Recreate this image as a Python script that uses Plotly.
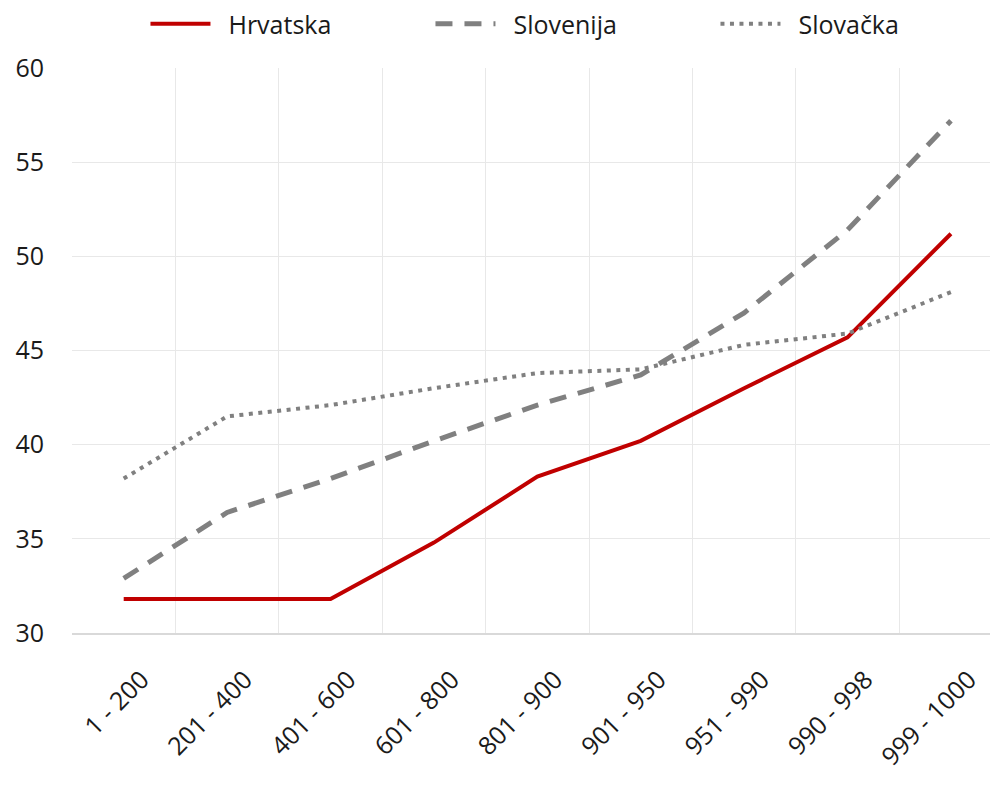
import plotly.graph_objects as go

categories = ["1 - 200", "201 - 400", "401 - 600", "601 - 800", "801 - 900",
              "901 - 950", "951 - 990", "990 - 998", "999 - 1000"]
hrvatska = [31.8, 31.8, 31.8, 34.8, 38.3, 40.2, 43.0, 45.7, 51.2]
slovenija = [32.9, 36.4, 38.2, 40.2, 42.1, 43.7, 47.0, 51.4, 57.2]
slovacka = [38.2, 41.5, 42.1, 43.0, 43.8, 44.0, 45.3, 45.9, 48.1]
y_ticks = [30, 35, 40, 45, 50, 55, 60]

FONT = "Open Sans"
PAD = "\u00a0\u00a0"

fig = go.Figure()
fig.add_trace(go.Scatter(x=categories, y=hrvatska, name=PAD + "Hrvatska", mode="lines",
                         line=dict(color="#C00000", width=4)))
fig.add_trace(go.Scatter(x=categories, y=slovenija, name=PAD + "Slovenija", mode="lines",
                         line=dict(color="#808080", width=5, dash="17px,12px")))
fig.add_trace(go.Scatter(x=categories, y=slovacka, name=PAD + "Slovačka", mode="lines",
                         line=dict(color="#808080", width=4, dash="4px,5.5px")))

# page has an 8px body margin; figure is offset accordingly
fig.update_layout(
    width=990, height=779,
    margin=dict(l=64, r=0, t=60, b=154, autoexpand=False),
    paper_bgcolor="white", plot_bgcolor="white",
    font=dict(family=FONT, size=25, color="#1a1a1a"),
    showlegend=True,
    legend=dict(orientation="h", x=0.541, xanchor="center", y=1 - 16 / 779, yanchor="middle",
                yref="container", itemwidth=60, entrywidth=210,
                font=dict(size=25)),
    xaxis=dict(type="category", range=[-0.5, 8.455], tickson="boundaries",
               showgrid=True, gridcolor="#e8e8e8", gridwidth=1,
               showline=True, linecolor="#d9d9d9", linewidth=2,
               ticks="", tickangle=-45, tickfont=dict(size=25),
               ticklabelshift=18, ticklabelstandoff=20),
    yaxis=dict(range=[30, 60], tickvals=y_ticks, showgrid=True, gridcolor="#e8e8e8",
               gridwidth=1, zeroline=False, showline=False, ticks="",
               ticklabelstandoff=27, tickfont=dict(size=25)),
)

fig.write_html("out.html")
